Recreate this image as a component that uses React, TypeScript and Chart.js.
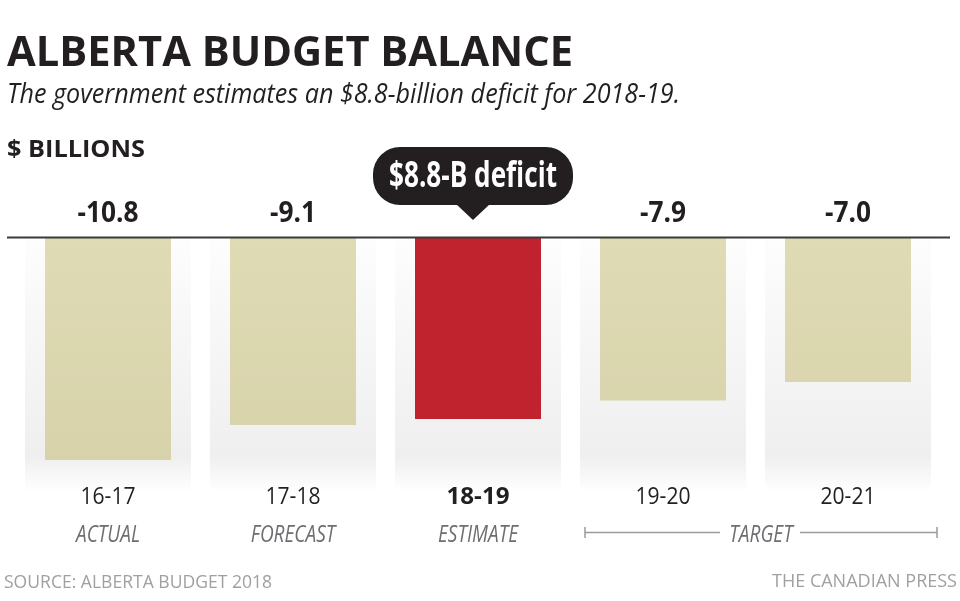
import React, { useEffect, useRef } from "react";
import { Chart, registerables } from "chart.js";

Chart.register(...registerables);

const categories = ["16-17", "17-18", "18-19", "19-20", "20-21"];
const values = [-10.8, -9.1, -8.8, -7.9, -7.0];
const valueLabels = ["-10.8", "-9.1", "", "-7.9", "-7.0"];
const phaseLabels = ["ACTUAL", "FORECAST", "ESTIMATE", "", ""];
const targetLabel = "TARGET";
const highlightIndex = 2;
const calloutText = "$8.8-B deficit";
const titleText = "ALBERTA BUDGET BALANCE";
const subtitleText = "The government estimates an $8.8-billion deficit for 2018-19.";
const unitText = "$ BILLIONS";
const sourceText = "SOURCE: ALBERTA BUDGET 2018";
const creditText = "THE CANADIAN PRESS";

const FONT = '"Open Sans", "Noto Sans", sans-serif';
const DARK = "#231f20";

function drawText(ctx: CanvasRenderingContext2D, text: string, x: number, y: number, font: string, color: string, align: CanvasTextAlign, sx: number) {
  ctx.save();
  ctx.font = font;
  ctx.fillStyle = color;
  ctx.textAlign = align;
  ctx.textBaseline = "alphabetic";
  ctx.translate(x, y);
  ctx.scale(sx, 1);
  ctx.fillText(text, 0, 0);
  ctx.restore();
}

function fit(ctx: CanvasRenderingContext2D, text: string, font: string, target: number) {
  ctx.save();
  ctx.font = font;
  const w = ctx.measureText(text).width;
  ctx.restore();
  return w > 0 ? target / w : 1;
}

const decorPlugin = {
  id: "decor",
  beforeDatasetsDraw(chart: any) {
    const ctx = chart.ctx as CanvasRenderingContext2D;
    const xs = chart.scales.x;
    const ys = chart.scales.y;
    const top = ys.getPixelForValue(0);
    const bottom = top + 254;
    const g = ctx.createLinearGradient(0, top, 0, bottom);
    g.addColorStop(0, "#fdfdfd");
    g.addColorStop(0.86, "#efefef");
    g.addColorStop(1, "#ffffff");
    ctx.save();
    ctx.fillStyle = g;
    categories.forEach((_, i) => {
      const cx = xs.getPixelForValue(i);
      ctx.fillRect(cx - 83, top, 166, bottom - top);
    });
    ctx.restore();
  },
  afterDatasetsDraw(chart: any) {
    const ctx = chart.ctx as CanvasRenderingContext2D;
    const y0 = chart.scales.y.getPixelForValue(0);
    ctx.save();
    ctx.strokeStyle = "#3a3a3a";
    ctx.lineWidth = 2;
    ctx.beginPath();
    ctx.moveTo(7, y0 - 0.5);
    ctx.lineTo(950, y0 - 0.5);
    ctx.stroke();
    ctx.restore();
  },
  afterDraw(chart: any) {
    const ctx = chart.ctx as CanvasRenderingContext2D;
    const xs = chart.scales.x;

    // Title block
    const tFont = `bold 41px ${FONT}`;
    drawText(ctx, titleText, 7, 66, tFont, DARK, "left", fit(ctx, titleText, tFont, 566));
    const sFont = `italic 27px ${FONT}`;
    drawText(ctx, subtitleText, 7, 103, sFont, DARK, "left", fit(ctx, subtitleText, sFont, 673));
    const uFont = `bold 24px ${FONT}`;
    drawText(ctx, unitText, 7, 157, uFont, DARK, "left", fit(ctx, unitText, uFont, 138));

    // Value labels
    const vFont = `bold 28px ${FONT}`;
    const vsx = fit(ctx, "-10.8", vFont, 61);
    valueLabels.forEach((t, i) => {
      if (!t) return;
      drawText(ctx, t, xs.getPixelForValue(i), 222, vFont, DARK, "center", vsx);
    });

    // Callout
    const cx = xs.getPixelForValue(highlightIndex) - 5;
    const bw = 200, bh = 58, btop = 147, r = 27;
    const bl = cx - bw / 2;
    ctx.save();
    ctx.fillStyle = DARK;
    ctx.beginPath();
    ctx.roundRect(bl, btop, bw, bh, r);
    ctx.fill();
    ctx.beginPath();
    ctx.moveTo(cx - 17, btop + bh - 1);
    ctx.lineTo(cx + 17, btop + bh - 1);
    ctx.lineTo(cx, btop + bh + 15);
    ctx.closePath();
    ctx.fill();
    ctx.restore();
    const cFont = `bold 35px ${FONT}`;
    drawText(ctx, calloutText, cx, 187, cFont, "#ffffff", "center", fit(ctx, calloutText, cFont, 168));

    // Category labels
    const catFont = `24px ${FONT}`;
    const catBold = `bold 24px ${FONT}`;
    const csx = fit(ctx, "16-17", catFont, 55);
    const cbsx = fit(ctx, "18-19", catBold, 63);
    categories.forEach((c, i) => {
      const hl = i === highlightIndex;
      drawText(ctx, c, xs.getPixelForValue(i), 504, hl ? catBold : catFont, DARK, "center", hl ? cbsx : csx);
    });

    // Phase labels
    const pFont = `italic 23px ${FONT}`;
    const psx = fit(ctx, "ACTUAL", pFont, 64);
    const gray = "#6d6e71";
    phaseLabels.forEach((p, i) => {
      if (!p) return;
      drawText(ctx, p, xs.getPixelForValue(i), 542, pFont, gray, "center", psx);
    });

    // Target bracket
    const left = xs.getPixelForValue(3) - 78;
    const right = xs.getPixelForValue(4) + 89;
    const mid = (left + right) / 2;
    const ly = 532.5;
    ctx.save();
    ctx.strokeStyle = "#9a9a9a";
    ctx.lineWidth = 1.5;
    ctx.beginPath();
    ctx.moveTo(left, ly);
    ctx.lineTo(mid - 41, ly);
    ctx.moveTo(mid + 39, ly);
    ctx.lineTo(right, ly);
    ctx.moveTo(left, ly - 5.5);
    ctx.lineTo(left, ly + 5.5);
    ctx.moveTo(right, ly - 5.5);
    ctx.lineTo(right, ly + 5.5);
    ctx.stroke();
    ctx.restore();
    drawText(ctx, targetLabel, mid, 542, pFont, gray, "center", psx);

    // Footer
    const fFont = `18px ${FONT}`;
    drawText(ctx, sourceText, 4, 588, fFont, "#a0a0a0", "left", fit(ctx, sourceText, fFont, 268));
    drawText(ctx, creditText, 957, 587, fFont, "#a0a0a0", "right", fit(ctx, creditText, fFont, 185));
  },
};

export default function App() {
  const ref = useRef<HTMLCanvasElement | null>(null);
  useEffect(() => {
    if (!ref.current) return;
    const chart = new Chart(ref.current, {
      type: "bar",
      data: {
        labels: categories,
        datasets: [
          {
            data: values,
            backgroundColor: (c: any) => {
              if (c.dataIndex === highlightIndex) return "#c1232e";
              const area = c.chart.chartArea;
              if (!area) return "#dcd8b0";
              const g = c.chart.ctx.createLinearGradient(0, area.top, 0, area.top + 230);
              g.addColorStop(0, "#dfdbb4");
              g.addColorStop(1, "#d7d2aa");
              return g;
            },
            borderWidth: 0,
            barPercentage: 126 / 185,
            categoryPercentage: 1,
          },
        ],
      },
      options: {
        responsive: false,
        animation: false,
        devicePixelRatio: 1,
        layout: { padding: { top: 238, bottom: 116.3, left: 15.5, right: 19.5 } },
        plugins: { legend: { display: false }, tooltip: { enabled: false }, title: { display: false } },
        scales: {
          x: { display: false },
          y: { display: false, min: -12, max: 0 },
        },
      },
      plugins: [decorPlugin],
    });
    return () => chart.destroy();
  }, []);
  return (
    <div style={{ position: "fixed", left: 0, top: 0, width: 960, height: 601, background: "#ffffff" }}>
      <canvas ref={ref} width={960} height={601} style={{ display: "block" }} />
    </div>
  );
}
